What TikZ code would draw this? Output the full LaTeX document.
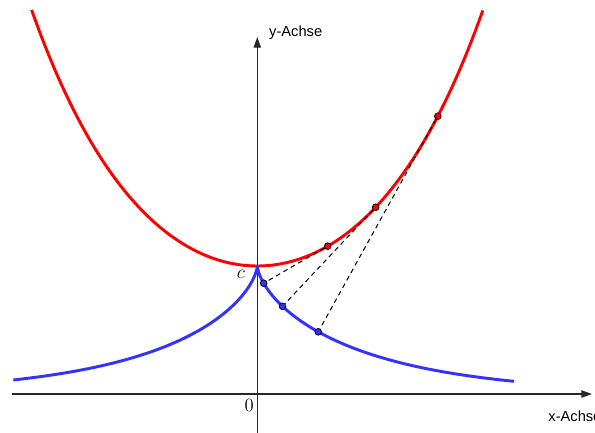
\documentclass[tikz,border=0pt]{standalone}
\usepackage{fontspec}
\newfontfamily\axfont{Liberation Sans}
\usetikzlibrary{arrows.meta}
\definecolor{tblue}{RGB}{51,51,255}
\definecolor{axgray}{RGB}{40,40,40}
\begin{document}
\begin{tikzpicture}[x=96pt,y=96pt,
  axisline/.style={draw=axgray, line width=0.9pt, -{Triangle[length=8pt,width=5.5pt]}},
  kette/.style={draw=red, line width=2.2pt, line join=round},
  traktrix/.style={draw=tblue, line width=2.2pt, line join=round},
  redpt/.style={circle, draw=black, fill=red, line width=0.6pt, inner sep=0pt, minimum size=5pt},
  bluept/.style={circle, draw=black, fill=tblue, line width=0.6pt, inner sep=0pt, minimum size=5pt},
  tangline/.style={draw=black, line width=0.75pt, dash pattern=on 3.6pt off 2.8pt},
  axlabel/.style={font=\axfont\fontsize{11}{13}\selectfont, inner sep=0pt},
  numlabel/.style={font=\fontsize{14}{16}\selectfont, inner sep=0pt}]
\useasboundingbox (-2.010,-0.297) rectangle (2.638,3.078);
% axes
\coordinate (xs) at (-1.916,0);
\coordinate (xe) at (2.615,0);
\coordinate (ys) at (0,-0.32);
\coordinate (ye) at (0,2.789);
\draw[axisline] (xs) -- (xe);
\draw[axisline] (ys) -- (ye);
% curves
\draw[kette] plot[domain=-1.763:1.763, samples=120, smooth] (\x,{cosh(\x)});
\draw[traktrix] plot[domain=0:2.9, samples=120, smooth, variable=\t] ({-(\t - tanh(\t))},{1/cosh(\t)});
\draw[traktrix] plot[domain=0:3.0, samples=120, smooth, variable=\t] ({\t - tanh(\t)},{1/cosh(\t)});
% points
\node[redpt] (R1) at ({0.55},{cosh(0.55)}) {};
\node[redpt] (R2) at ({0.925},{cosh(0.925)}) {};
\node[redpt] (R3) at ({1.41},{cosh(1.41)}) {};
\node[bluept] (B1) at ({0.55-tanh(0.55)},{1/cosh(0.55)}) {};
\node[bluept] (B2) at ({0.925-tanh(0.925)},{1/cosh(0.925)}) {};
\node[bluept] (B3) at ({1.35-tanh(1.35)},{1/cosh(1.35)}) {};
\draw[tangline] (R1) -- (B1);
\draw[tangline] (R2) -- (B2);
\draw[tangline] (R3) -- (B3);
% labels
\node[axlabel, anchor=west] (ylab) at (0.091,2.82) {y-Achse};
\node[axlabel, anchor=west] (xlab) at (2.272,-0.170) {x-Achse};
\node[numlabel] (null) at (-0.0625,-0.086) {0};
\node[numlabel] (clab) at (-0.128,0.935) {$c$};
\end{tikzpicture}
\end{document}
